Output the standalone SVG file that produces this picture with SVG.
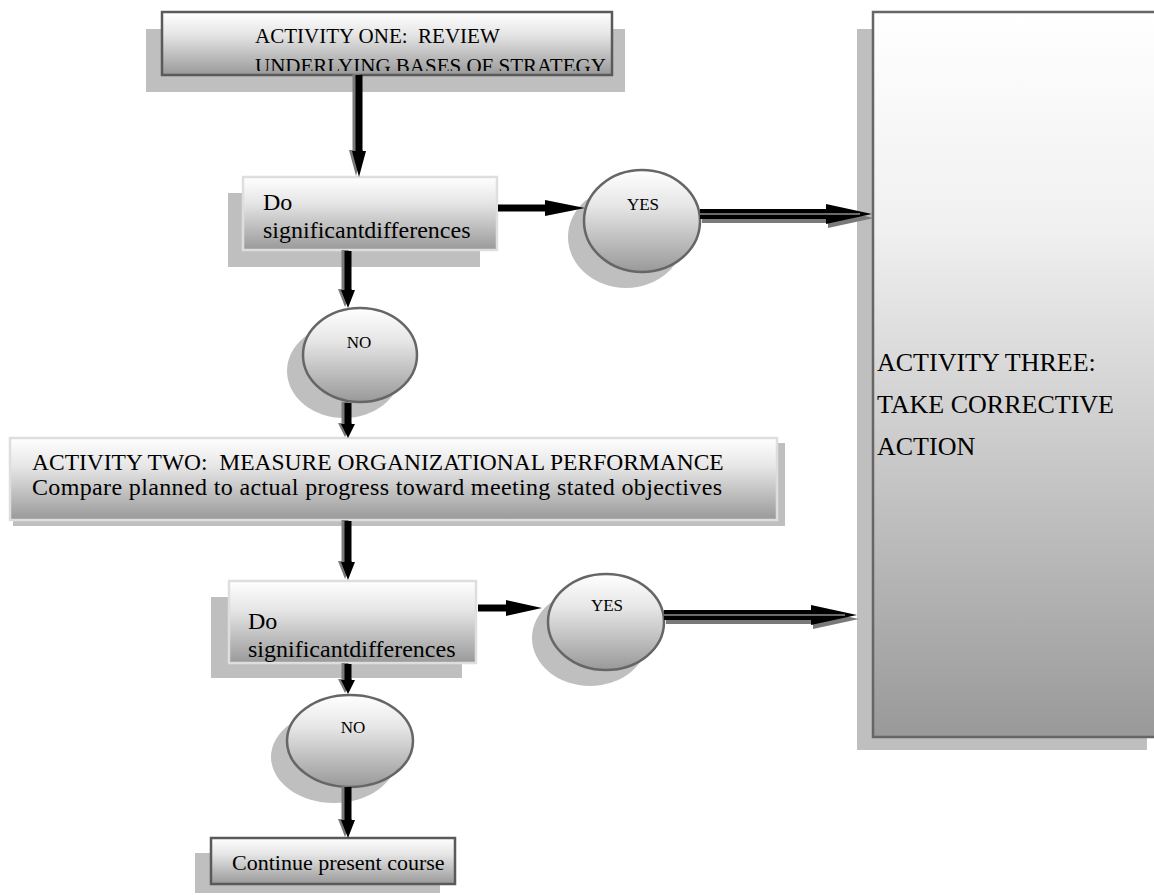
<svg xmlns="http://www.w3.org/2000/svg" width="1154" height="895" viewBox="0 0 1154 895">
  <defs>
    <linearGradient id="gBox" x1="0" y1="0" x2="0" y2="1">
      <stop offset="0" stop-color="#ffffff"/>
      <stop offset="0.35" stop-color="#e6e6e6"/>
      <stop offset="1" stop-color="#999999"/>
    </linearGradient>
    <linearGradient id="gTall" x1="0" y1="0" x2="0" y2="1">
      <stop offset="0" stop-color="#ffffff"/>
      <stop offset="0.3" stop-color="#f0f0f0"/>
      <stop offset="1" stop-color="#999999"/>
    </linearGradient>
    <clipPath id="clipOne">
      <rect x="162" y="12" width="450" height="59"/>
    </clipPath>
    <style>
      .shadow { fill: #bfbfbf; }
      .dark { fill: url(#gBox); stroke: #5a5a5a; stroke-width: 2.5; }
      .light { fill: url(#gBox); stroke: #dedede; stroke-width: 2.5; }
      .oval { fill: url(#gBox); stroke: #666666; stroke-width: 2.5; }
      .tall { fill: url(#gTall); stroke: #666666; stroke-width: 2.5; }
      .t { font-family: "Liberation Serif", "Times New Roman", serif; fill: #000; }
      .big { font-size: 24px; }
      .mid { font-size: 21px; }
      .small { font-size: 17px; text-anchor: middle; }
      .arr { fill: #000; }
      .arrsh { fill: #7a7a7a; }
      .hi { stroke: #6a6a6a; stroke-width: 2; }
    </style>
  </defs>
  <rect width="1154" height="895" fill="#ffffff"/>

  <!-- activity three (right column) -->
  <g id="activity-three">
    <rect class="shadow" x="857" y="29" width="290" height="721"/>
    <rect class="tall" x="873" y="12" width="300" height="725"/>
    <text class="t" font-size="26" x="877" y="371">ACTIVITY THREE:</text>
    <text class="t" font-size="26" x="877" y="413">TAKE CORRECTIVE</text>
    <text class="t" font-size="26" x="877" y="455">ACTION</text>
  </g>

  <g id="activity-one">
    <rect class="shadow" x="146" y="29" width="479" height="63"/>
    <rect class="dark" x="162" y="12" width="450" height="63"/>
    <g clip-path="url(#clipOne)">
      <text class="t mid" x="255" y="43" xml:space="preserve">ACTIVITY ONE:  REVIEW</text>
      <text class="t mid" x="255" y="73">UNDERLYING BASES OF STRATEGY</text>
    </g>
  </g>

  <g id="decision-one">
    <rect class="shadow" x="228" y="193" width="252" height="74"/>
    <rect class="light" x="243" y="177" width="254" height="73"/>
    <text class="t big" x="263" y="210">Do</text>
    <text class="t big" x="263" y="238">significantdifferences</text>
  </g>

  <g id="yes-one">
    <ellipse class="shadow" cx="626" cy="237" rx="58" ry="51"/>
    <ellipse class="oval" cx="642" cy="221" rx="58" ry="51"/>
    <text class="t small" x="643" y="210">YES</text>
  </g>

  <g id="no-one">
    <ellipse class="shadow" cx="344" cy="371" rx="57" ry="47"/>
    <ellipse class="oval" cx="360" cy="355" rx="57" ry="47"/>
    <text class="t small" x="359" y="348">NO</text>
  </g>

  <g id="activity-two">
    <rect class="shadow" x="13" y="443" width="772" height="83"/>
    <rect class="light" x="10" y="438" width="767" height="82"/>
    <text class="t" font-size="23.5" x="32" y="470" xml:space="preserve">ACTIVITY TWO:  MEASURE ORGANIZATIONAL PERFORMANCE</text>
    <text class="t" font-size="24" x="32" y="495" textLength="690" lengthAdjust="spacing">Compare planned to actual progress toward meeting stated objectives</text>
  </g>

  <g id="decision-two">
    <rect class="shadow" x="211" y="597" width="251" height="81"/>
    <rect class="light" x="229" y="581" width="247" height="82"/>
    <text class="t big" x="248" y="629">Do</text>
    <text class="t big" x="248" y="657">significantdifferences</text>
  </g>

  <g id="yes-two">
    <ellipse class="shadow" cx="590" cy="638" rx="58" ry="48"/>
    <ellipse class="oval" cx="606" cy="622" rx="58" ry="48"/>
    <text class="t small" x="607" y="611">YES</text>
  </g>

  <g id="no-two">
    <ellipse class="shadow" cx="334" cy="757" rx="63" ry="46"/>
    <ellipse class="oval" cx="350" cy="741" rx="63" ry="46"/>
    <text class="t small" x="353" y="733">NO</text>
  </g>

  <g id="continue">
    <rect class="shadow" x="195" y="853" width="245" height="40"/>
    <rect class="dark" x="211" y="838" width="244" height="46"/>
    <text class="t" font-size="22" x="232" y="870">Continue present course</text>
  </g>

  <!-- connectors -->
  <g id="connectors">
    <!-- activity one -> decision one -->
    <path class="arrsh" transform="translate(-3,-1)" d="M355.5 75 L362.5 75 L362.5 151 L366 151 L359 177 L352 151 L355.5 151 Z"/>
    <path class="arr" d="M355.5 75 L362.5 75 L362.5 151 L366 151 L359 177 L352 151 L355.5 151 Z"/>

    <!-- decision one -> yes -->
    <path class="arr" d="M498 204.5 L545 204.5 L545 200 L585 208 L545 216 L545 211.5 L498 211.5 Z"/>

    <!-- yes -> activity three -->
    <path class="arrsh" transform="translate(2,4)" d="M700 209 L826 209 L826 204 L872 214 L826 224 L826 219 L700 219 Z"/>
    <path class="arr" d="M700 209 L826 209 L826 204 L872 214 L826 224 L826 219 L700 219 Z"/>
    <line class="hi" x1="700" y1="214" x2="860" y2="214"/>

    <!-- decision one -> no -->
    <path class="arrsh" transform="translate(-3,-1)" d="M344.5 251 L351.5 251 L351.5 290 L355 290 L348 308 L341 290 L344.5 290 Z"/>
    <path class="arr" d="M344.5 251 L351.5 251 L351.5 290 L355 290 L348 308 L341 290 L344.5 290 Z"/>

    <!-- no -> activity two -->
    <path class="arrsh" transform="translate(-3,-1)" d="M344.5 403 L351.5 403 L351.5 424 L355 424 L348 438 L341 424 L344.5 424 Z"/>
    <path class="arr" d="M344.5 403 L351.5 403 L351.5 424 L355 424 L348 438 L341 424 L344.5 424 Z"/>

    <!-- activity two -> decision two -->
    <path class="arrsh" transform="translate(-3,-1)" d="M344.5 521 L351.5 521 L351.5 562 L355 562 L348 580 L341 562 L344.5 562 Z"/>
    <path class="arr" d="M344.5 521 L351.5 521 L351.5 562 L355 562 L348 580 L341 562 L344.5 562 Z"/>

    <!-- decision two -> yes -->
    <path class="arr" d="M478 604.5 L506 604.5 L506 600 L542 608 L506 616 L506 611.5 L478 611.5 Z"/>

    <!-- yes -> activity three -->
    <path class="arrsh" transform="translate(2,4)" d="M664 610 L811 610 L811 605 L857 615 L811 625 L811 620 L664 620 Z"/>
    <path class="arr" d="M664 610 L811 610 L811 605 L857 615 L811 625 L811 620 L664 620 Z"/>
    <line class="hi" x1="664" y1="615" x2="845" y2="615"/>

    <!-- decision two -> no -->
    <path class="arrsh" transform="translate(-3,-1)" d="M344.5 664 L351.5 664 L351.5 680 L355 680 L348 694 L341 680 L344.5 680 Z"/>
    <path class="arr" d="M344.5 664 L351.5 664 L351.5 680 L355 680 L348 694 L341 680 L344.5 680 Z"/>

    <!-- no -> continue -->
    <path class="arrsh" transform="translate(-3,-1)" d="M344.5 787 L351.5 787 L351.5 820 L355 820 L348 838 L341 820 L344.5 820 Z"/>
    <path class="arr" d="M344.5 787 L351.5 787 L351.5 820 L355 820 L348 838 L341 820 L344.5 820 Z"/>
  </g>
</svg>
